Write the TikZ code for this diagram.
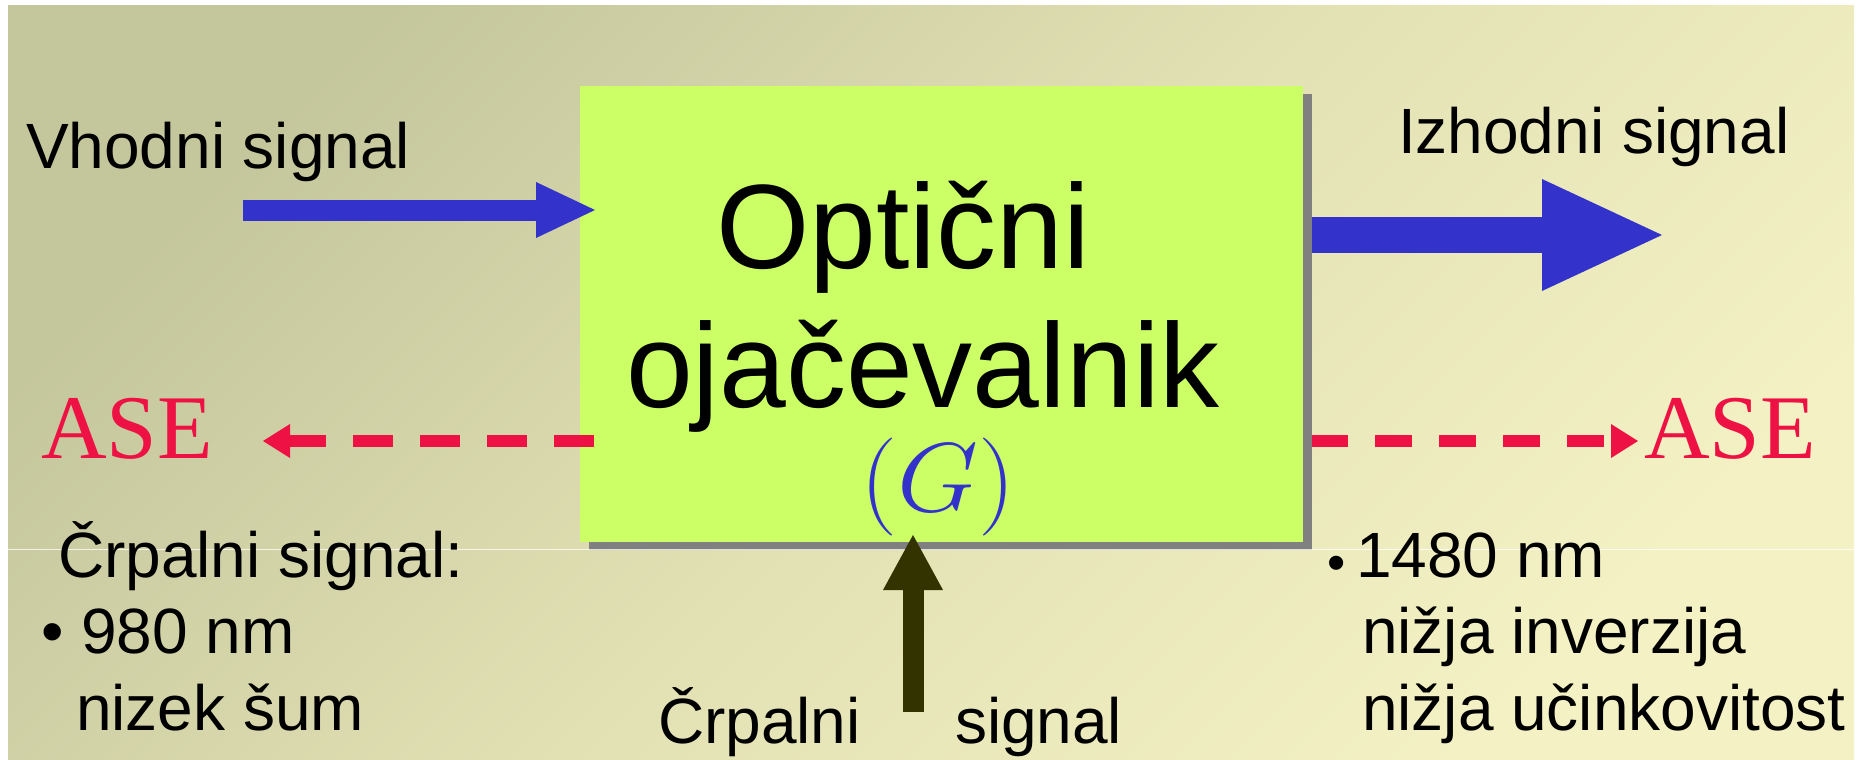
\RequirePackage{fix-cm}
\documentclass[tikz,border=0pt]{standalone}
\usepackage[no-math]{fontspec}
\usepackage{graphicx}
\setmainfont{Liberation Sans}
\newfontfamily\serifase{Liberation Serif}
\usetikzlibrary{arrows.meta}
\definecolor{bgdark}{RGB}{196,198,156}
\definecolor{bgmid}{RGB}{226,225,180}
\definecolor{bglight}{RGB}{244,242,196}
\definecolor{boxgreen}{RGB}{204,255,102}
\definecolor{shadowgray}{RGB}{128,128,128}
\definecolor{sigblue}{RGB}{51,51,204}
\definecolor{asered}{RGB}{238,17,68}
\definecolor{pumpolive}{RGB}{51,51,0}
\pgfdeclarelayer{under}
\pgfsetlayers{under,main}
\tikzset{
  lbl/.style={inner sep=0pt, outer sep=0pt, font=\fontsize{64}{64}\selectfont, anchor=base west},
  bulletsmall/.style={inner sep=0pt, outer sep=0pt, font=\fontsize{52}{52}\selectfont, anchor=base west},
  titletxt/.style={inner sep=0pt, outer sep=0pt, font=\fontsize{120}{120}\selectfont, anchor=base},
  gaintxt/.style={inner sep=0pt, outer sep=0pt, text=sigblue, font=\fontsize{98}{98}\selectfont, anchor=base},
  asetxt/.style={inner sep=0pt, outer sep=0pt, text=asered, font=\serifase\fontsize{91}{91}\selectfont, anchor=base west},
  ampbox/.style={fill=boxgreen, draw=none, minimum width=723pt, minimum height=456pt, inner sep=0pt, outer sep=0pt},
  asedash/.style={draw=asered, line width=12pt, -{Triangle[length=27pt,width=34pt,line width=0pt]}},
}
\begin{document}
\begin{tikzpicture}[x=1pt,y=-1pt]
\useasboundingbox (0,0) rectangle (1868,760);

% amplifier block
\node[ampbox] (box) at (941.5,314) {};

% free ends of connectors
\coordinate (inS) at (243,210);
\coordinate (outE) at (1662,235);
\coordinate (aseLtip) at (263,441);
\coordinate (aseRtip) at (1638,441);
\coordinate (pumpS) at (913,712);

\begin{pgfonlayer}{under}
  \fill[white] (0,0) rectangle (1868,760);
  \shade[left color=bgdark, right color=bglight, middle color=bgmid, shading angle=45] (8,6) rectangle (1854,760);
  \draw[sigblue, line width=36pt, -{Triangle[length=120pt,width=112pt,line width=0pt]}] (box.east |- outE) -- (outE);
  \draw[asedash, dash pattern=on 37pt off 27pt, dash phase=56pt] (box.east |- aseRtip) -- (aseRtip);
  \fill[shadowgray] ([shift={(9,8)}]box.north west) rectangle ([shift={(9,8)}]box.south east);
\end{pgfonlayer}

% thin light line
\draw[white, line width=1.2pt, opacity=0.75] (8,549.5) -- (1854,549.5);

% connectors on top of the box
\draw[sigblue, line width=21pt, -{Triangle[length=59pt,width=56pt,line width=0pt]}, shorten >=-15pt] (inS) -- (inS -| box.west);
\draw[asedash, dash pattern=on 40pt off 27pt, shorten <=-14pt] (aseLtip -| box.west) -- (aseLtip);
\draw[pumpolive, line width=21pt, -{Triangle[length=55pt,width=60pt,line width=0pt]}, shorten >=-7pt] (pumpS) -- (pumpS |- box.south);

% texts
\node[titletxt] (t1) at (903,268) {Optični};
\node[titletxt] (t2) at (923,407) {ojačevalnik};
\node[gaintxt] (gain) at (938,511) {\scalebox{1.07}[1]{$(G)$}};
\node[lbl] (vin) at (26,168) {Vhodni signal};
\node[lbl] (vout) at (1398,153) {Izhodni signal};
\node[asetxt] (aseL) at (41,458) {ASE};
\node[asetxt] (aseR) at (1644,458) {ASE};
\node[lbl] (cL1) at (58,577) {Črpalni signal:};
\node[lbl] (cL2) at (41,653) {• 980 nm};
\node[lbl] (cL3) at (76,730) {nizek šum};
\node[bulletsmall] (bR) at (1327,580) {•};
\node[lbl] (cR1) at (1356,577) {1480 nm};
\node[lbl] (cR2) at (1362,653) {nižja inverzija};
\node[lbl] (cR3) at (1362,730) {nižja učinkovitost};
\node[lbl] (p1) at (658,743) {Črpalni};
\node[lbl] (p2) at (955,743) {signal};
\end{tikzpicture}
\end{document}
